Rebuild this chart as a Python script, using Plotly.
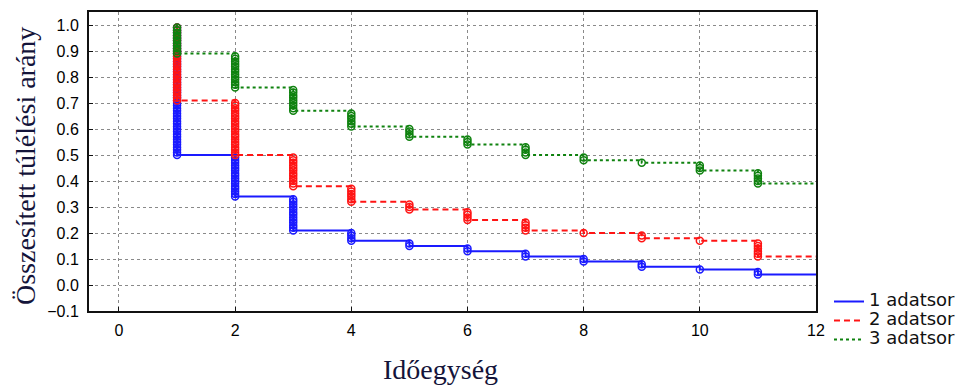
import numpy as np
import plotly.graph_objects as go

# Kaplan-Meier style cumulative survival for three data series
times = [1, 2, 3, 4, 5, 6, 7, 8, 9, 10, 11]
end_time = 12
n_subjects = 100
deaths_1 = [50, 16, 13, 4, 2, 2, 2, 2, 2, 1, 2]
deaths_2 = [29, 21, 12, 6, 3, 4, 4, 1, 2, 1, 6]
deaths_3 = [11, 13, 9, 6, 4, 3, 4, 2, 1, 3, 5]
series_names = ["1 adatsor", "2 adatsor", "3 adatsor"]

x_ticks = [0, 2, 4, 6, 8, 10, 12]
y_ticks = [round(-0.1 + 0.1 * i, 1) for i in range(12)]

styles = [
    dict(color="#1a1aff", dash="solid"),
    dict(color="#ff1414", dash="6px,4px"),
    dict(color="#0f820f", dash="dot"),
]


def survival_curve(deaths):
    """Step curve and per-event points of the cumulative proportion surviving."""
    at_risk = n_subjects
    xs, ys = [times[0]], [1.0]
    px, py = [], []
    for t, d in zip(times, deaths):
        for k in range(1, d + 1):
            px.append(t)
            py.append((at_risk - k) / n_subjects)
        at_risk -= d
        xs.append(t)
        ys.append(at_risk / n_subjects)
    xs.append(end_time)
    ys.append(ys[-1])
    return xs, ys, px, py


fig = go.Figure()
for name, deaths, st in zip(series_names, [deaths_1, deaths_2, deaths_3], styles):
    xs, ys, px, py = survival_curve(deaths)
    fig.add_trace(go.Scatter(
        x=xs, y=ys, mode="lines", line_shape="hv",
        name=f'<span style="font-size:18px">{name}</span>',
        line=dict(color=st["color"], dash=st["dash"], width=2),
    ))
    fig.add_trace(go.Scatter(
        x=px, y=py, mode="markers", showlegend=False, hoverinfo="skip",
        marker=dict(symbol="circle-open", size=7, color=st["color"],
                    line=dict(width=1.5, color=st["color"])),
    ))

W, H = 966, 387
ml, mr, mt, mb = 89, 150, 12, 76
pw, ph = W - ml - mr, H - mt - mb

axis_common = dict(
    showline=True, linecolor="#111", linewidth=2, mirror=True,
    showgrid=True, gridcolor="#8a8a8a", gridwidth=1, griddash="dot",
    zeroline=False, ticks="inside", ticklen=4, tickcolor="#111",
    tickfont=dict(family="Liberation Sans, Arial, sans-serif", size=16, color="#000"),
)

fig.update_xaxes(range=[-0.516, 12], tickvals=x_ticks, ticklabelstandoff=4, **axis_common)
fig.update_yaxes(range=[-0.1, 1.05], tickvals=y_ticks, tickformat=".1f",
                 ticklabelstandoff=5, **axis_common)

serif = "Liberation Serif, Times New Roman, serif"
fig.add_annotation(text="Időegység", xref="paper", yref="paper",
                   x=(440 - ml) / pw, y=((H - mb) - 369) / ph,
                   xanchor="center", yanchor="middle", showarrow=False,
                   font=dict(family=serif, size=28, color="#14143a"))
fig.add_annotation(text="Összesített túlélési arány", xref="paper", yref="paper",
                   x=(25 - ml) / pw, y=((H - mb) - 166) / ph, textangle=-90,
                   xanchor="center", yanchor="middle", showarrow=False,
                   font=dict(family=serif, size=28, color="#14143a"))

fig.update_layout(
    width=W, height=H, autosize=False,
    margin=dict(l=ml, r=mr, t=mt, b=mb, pad=0, autoexpand=False),
    paper_bgcolor="white", plot_bgcolor="white",
    showlegend=True,
    legend=dict(
        x=(829 - ml) / pw, y=((H - mb) - 287) / ph, xanchor="left", yanchor="top",
        font=dict(family="DejaVu Sans, sans-serif", size=12, color="#111"),
        itemwidth=30, bgcolor="rgba(0,0,0,0)", borderwidth=0, tracegroupgap=0,
    ),
)

fig.write_html("out.html")
